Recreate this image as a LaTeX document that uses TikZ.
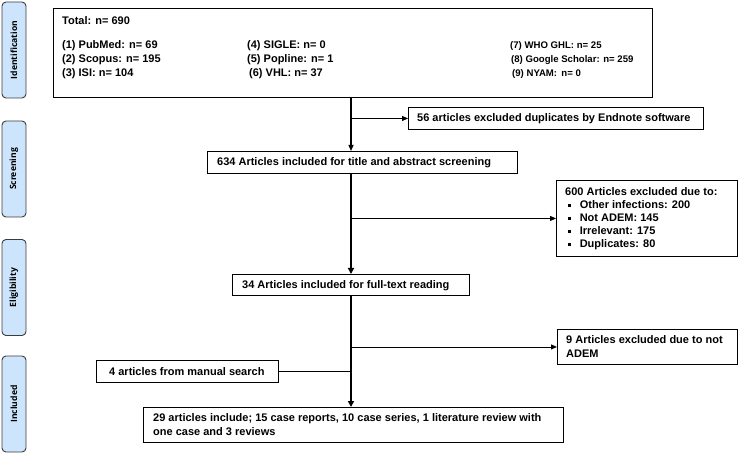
\documentclass[tikz,border=0pt]{standalone}
\usepackage{fontspec}
\setmainfont{Liberation Sans}
\newfontfamily\stagefont{Open Sans}
\usetikzlibrary{arrows.meta}
\definecolor{stagefill}{RGB}{204,229,252}
\definecolor{stageline}{RGB}{60,60,60}
\tikzset{
  box/.style={draw, line width=0.9pt, inner sep=0pt, anchor=north west},
  txt/.style={anchor=base west, inner sep=0pt, font=\fontsize{11}{13}\selectfont\bfseries},
  smalltxt/.style={anchor=base west, inner sep=0pt, font=\fontsize{9.6}{12}\selectfont\bfseries},
  stage/.style={draw=stageline, fill=stagefill, line width=0.9pt, rounded corners=4pt,
     rotate=90, minimum width=96pt, minimum height=24pt, inner sep=0pt,
     font=\fontsize{8.6}{10}\selectfont\stagefont\bfseries},
  conn/.style={line width=0.9pt},
  thinarrow/.style={line width=1.2pt, -{Triangle[length=6pt,width=5pt]}},
  thickarrow/.style={line width=2.2pt, -{Triangle[length=6pt,width=6pt]}},
  sidearrow/.style={line width=0.9pt, -{Triangle[length=6pt,width=5pt]}},
}
\newcommand{\sqbullet}{\raisebox{2.2pt}{\rule{2.6pt}{2.6pt}}}
\begin{document}
\begin{tikzpicture}[x=1pt,y=-1pt]
\useasboundingbox (0,0) rectangle (739,454);
% stage labels
\node[stage] (sid) at (14,50) {Identification};
\node[stage] (ssc) at (14,169) {Screening};
\node[stage] (sel) at (14,287.5) {Eligibility};
\node[stage] (sin) at (14,404) {Included};
% identification box
\node[box, minimum width=599pt, minimum height=89pt] (idb) at (53,8) {};
\node[txt] (tot) at (62,25) {Total: n= 690};
\node[txt] (d1) at (62,49) {(1) PubMed: n= 69};
\node[txt] (d2) at (62,63) {(2) Scopus: n= 195};
\node[txt] (d3) at (62,77) {(3) ISI: n= 104};
\node[txt] (d4) at (247,49) {(4) SIGLE: n= 0};
\node[txt] (d5) at (247,63) {(5) Popline: n= 1};
\node[txt] (d6) at (249,77) {(6) VHL: n= 37};
\node[smalltxt] (d7) at (510,49) {(7) WHO GHL: n= 25};
\node[smalltxt] (d8) at (511,63) {(8) Google Scholar: n= 259};
\node[smalltxt] (d9) at (512,77) {(9) NYAM:\, n= 0};
% other boxes
\node[box, minimum width=295pt, minimum height=22pt] (b56) at (408,107) {};
\node[txt] (t56) at (417,122) {56 articles excluded duplicates by Endnote software};
\node[box, minimum width=310pt, minimum height=22pt] (b634) at (207,151) {};
\node[txt] (t634) at (217,166) {634 Articles included for title and abstract screening};
\node[box, minimum width=181pt, minimum height=76pt] (b600) at (556,180) {};
\node[txt] (t600) at (565,196) {600 Articles excluded due to:};
\node[txt] (u1) at (568,209) {\sqbullet\hspace{9pt}Other infections: 200};
\node[txt] (u2) at (568,222) {\sqbullet\hspace{9pt}Not ADEM: 145};
\node[txt] (u3) at (568,235) {\sqbullet\hspace{9pt}Irrelevant: 175};
\node[txt] (u4) at (568,248) {\sqbullet\hspace{9pt}Duplicates: 80};
\node[box, minimum width=237pt, minimum height=21pt] (b34) at (232,274) {};
\node[txt] (t34) at (242,288.5) {34 Articles included for full-text reading};
\node[box, minimum width=180pt, minimum height=35pt] (b9) at (557,329) {};
\node[txt] (t9a) at (566,344) {9 Articles excluded due to not};
\node[txt] (t9b) at (566,357) {ADEM};
\node[box, minimum width=182pt, minimum height=22pt] (b4) at (96,360) {};
\node[txt] (t4) at (109,375) {4 articles from manual search};
\node[box, minimum width=420pt, minimum height=35pt] (b29) at (143,407) {};
\node[txt] (t29a) at (153,421) {29 articles include; 15 case reports, 10 case series, 1 literature review with};
\node[txt] (t29b) at (153,435) {one case and 3 reviews};
% spine
\coordinate (spine) at (351,0);
\draw[thinarrow] (idb.south -| spine) -- (b634.north -| spine);
\draw[sidearrow] (spine |- b56.west) -- (b56.west);
\draw[thickarrow] (b634.south -| spine) -- (b34.north -| spine);
\draw[sidearrow] (spine |- b600.west) -- (b600.west);
\draw[thickarrow] (b34.south -| spine) -- (b29.north -| spine);
\draw[sidearrow] (spine |- b9.west) -- (b9.west);
\draw[conn] (b4.east) -- (b4.east -| spine);
\end{tikzpicture}
\end{document}
